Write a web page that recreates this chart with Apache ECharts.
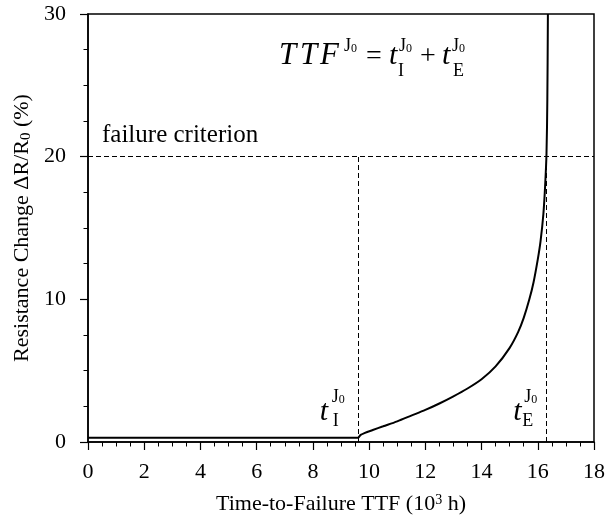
<!DOCTYPE html>
<html><head><meta charset="utf-8">
<script src="https://cdn.jsdelivr.net/npm/echarts@6/dist/echarts.min.js"></script>
<style>html,body{margin:0;padding:0;background:#fff}#c{width:608px;height:524px}</style>
</head><body><div id="c"></div>
<script>
// ---- data ----
const ttf = [0, 9.6, 9.7, 9.83, 10.13, 10.5, 11.0, 11.5, 12.0, 12.5, 13.0, 13.5, 14.0, 14.5, 15.0, 15.3, 15.5, 15.7, 15.85, 16.0, 16.1, 16.2, 16.26, 16.31, 16.34, 16.36];
const dR  = [0.3, 0.3, 0.5, 0.62, 0.84, 1.1, 1.45, 1.85, 2.25, 2.7, 3.2, 3.75, 4.4, 5.3, 6.6, 7.7, 8.7, 10.0, 11.2, 12.8, 14.1, 16.0, 17.9, 20.2, 24, 30];
const xTicks = [0, 2, 4, 6, 8, 10, 12, 14, 16, 18];
const yTicks = [0, 10, 20, 30];
const criterion = 20;
const tI = 9.6;
const tE = 16.3;

const SERIF = "'Liberation Serif', 'Times New Roman', serif";
const chart = echarts.init(document.getElementById('c'), null, {renderer: 'canvas'});

const axisCommon = {
  axisLine: {show: true, onZero: false, lineStyle: {color: '#000', width: 1.5}},
  axisTick: {show: true, inside: false, length: 8, lineStyle: {color: '#000', width: 1.2}},
  minorTick: {show: true, splitNumber: 4, length: 4.5, lineStyle: {color: '#000', width: 1}},
  splitLine: {show: false},
  axisLabel: {color: '#000', fontFamily: SERIF, fontSize: 22},
  nameTextStyle: {color: '#000', fontFamily: SERIF, fontSize: 22}
};

const option = {
  animation: false,
  backgroundColor: '#fff',
  grid: {left: 88, top: 14, right: 13, bottom: 82, show: true, borderColor: '#000', borderWidth: 1.5, containLabel: false},
  xAxis: Object.assign({}, axisCommon, {
    type: 'value', min: xTicks[0], max: xTicks[xTicks.length - 1], interval: xTicks[1] - xTicks[0],
    axisLabel: Object.assign({}, axisCommon.axisLabel, {margin: 19}),
    name: 'Time-to-Failure TTF (10{sup|3} h)', nameLocation: 'middle', nameGap: 51,
    nameTextStyle: Object.assign({}, axisCommon.nameTextStyle, {
      rich: {sup: {fontFamily: SERIF, fontSize: 14, verticalAlign: 'top', color: '#000'}}
    })
  }),
  yAxis: Object.assign({}, axisCommon, {
    type: 'value', min: yTicks[0], max: yTicks[yTicks.length - 1], interval: yTicks[1] - yTicks[0],
    axisLabel: Object.assign({}, axisCommon.axisLabel, {margin: 22}),
    name: 'Resistance Change ΔR/R{sub|0} (%)', nameLocation: 'middle', nameGap: 52,
    nameTextStyle: Object.assign({}, axisCommon.nameTextStyle, {
      rich: {sub: {fontFamily: SERIF, fontSize: 15, verticalAlign: 'bottom', color: '#000'}}
    })
  }),
  series: [{
    type: 'line',
    data: ttf.map((x, i) => [x, dR[i]]),
    showSymbol: false,
    smooth: 0.3,
    lineStyle: {color: '#000', width: 2},
    clip: true,
    markLine: {
      silent: true, symbol: 'none', animation: false,
      label: {show: false},
      lineStyle: {color: '#000', width: 1, type: [5, 3]},
      data: [
        [{coord: [xTicks[0], criterion]}, {coord: [xTicks[xTicks.length - 1], criterion]}],
        [{coord: [tI, 0]}, {coord: [tI, criterion]}],
        [{coord: [tE, 0]}, {coord: [tE, criterion]}]
      ]
    }
  }]
};
chart.setOption(option);

function txt(x, y, text, size, italic) {
  return {type: 'text', x: x, y: y, silent: true, style: {text: text, fontFamily: SERIF, fontSize: size,
    fontStyle: italic ? 'italic' : 'normal', fill: '#000', align: 'left', verticalAlign: 'middle'}};
}
function supJ0(x, y) {
  return {type: 'text', x: x, y: y, silent: true, style: {text: '{j|J}{z|0}', fill: '#000', align: 'left', verticalAlign: 'middle',
    rich: {j: {fontFamily: SERIF, fontSize: 18, fill: '#000'}, z: {fontFamily: SERIF, fontSize: 12, verticalAlign: 'bottom', fill: '#000'}}}};
}
const pI = chart.convertToPixel({gridIndex: 0}, [tI, 0]);
const pE = chart.convertToPixel({gridIndex: 0}, [tE, 0]);
const g = [
  txt(102, 135, 'failure criterion', 25, false),
  txt(279, 56, 'T', 31, true), txt(300, 56, 'T', 31, true), txt(320, 56, 'F', 31, true),
  supJ0(344, 46),
  txt(366, 57, '=', 28, false),
  txt(389, 56, 't', 30, true), supJ0(399, 46), txt(398, 71, 'I', 18, false),
  txt(420, 57, '+', 28, false),
  txt(442, 56, 't', 30, true), supJ0(452, 46), txt(453, 71, 'E', 18, false),
  txt(pI[0] - 38, 412, 't', 30, true), supJ0(pI[0] - 26, 397), txt(pI[0] - 25, 421, 'I', 18, false),
  txt(pE[0] - 33, 412, 't', 30, true), supJ0(pE[0] - 22, 397), txt(pE[0] - 24, 421, 'E', 18, false)
];
chart.setOption({graphic: g});
</script>
</body></html>
